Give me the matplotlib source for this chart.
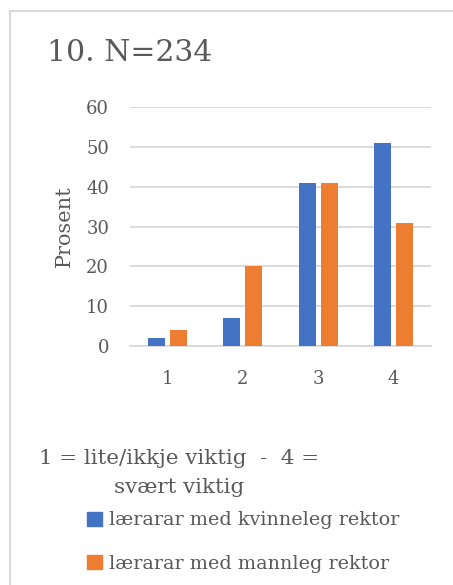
import matplotlib
matplotlib.use("Agg")
import matplotlib.pyplot as plt
from matplotlib.patches import Rectangle, Patch
import numpy as np

categories = ["1", "2", "3", "4"]
kvinneleg = [2, 7, 41, 51]
mannleg = [4, 20, 41, 31]
series_names = ["lærarar med kvinneleg rektor", "lærarar med mannleg rektor"]
title = "10. N=234"
legend_title = "1 = lite/ikkje viktig  -  4 =\nsvært viktig"
yticks = [0, 10, 20, 30, 40, 50, 60]

BLUE = "#4472C4"
ORANGE = "#ED7D31"
TEXT = "#595959"
GRID = "#D9D9D9"
FONT = "DejaVu Serif"

W, H = 453, 585
fig = plt.figure(figsize=(W / 100, H / 100), dpi=100)
fig.patch.set_facecolor("white")

# chart frame
fig.patches.append(Rectangle((9.5 / W, -0.1), 1.2, 1 - 11 / H + 0.1,
                             transform=fig.transFigure, fill=False,
                             edgecolor="#D9D9D9", linewidth=1.5))

ax = fig.add_axes([130 / W, 1 - 346 / H, 301 / W, 239 / H])
x = np.arange(len(categories))
bw = 0.226
off = 0.146
ax.bar(x - off, kvinneleg, bw, color=BLUE, zorder=3)
ax.bar(x + off, mannleg, bw, color=ORANGE, zorder=3)
ax.set_xlim(-0.5, len(categories) - 0.5)
ax.set_ylim(0, 60)
ax.set_yticks(yticks)
ax.set_xticks(x)
ax.set_xticklabels(categories)
ax.grid(axis="y", color=GRID, linewidth=1.3, zorder=0)
ax.set_axisbelow(True)
for s in ["top", "right", "left"]:
    ax.spines[s].set_visible(False)
ax.spines["bottom"].set_color(GRID)
ax.spines["bottom"].set_linewidth(1.3)
ax.tick_params(length=0, labelcolor=TEXT, labelsize=13)
ax.tick_params(axis="y", pad=15)
ax.tick_params(axis="x", pad=17)
for lab in ax.get_xticklabels() + ax.get_yticklabels():
    lab.set_family(FONT)
ax.set_ylabel("Prosent", family=FONT, fontsize=15, color=TEXT, labelpad=9)

fig.text(47 / W, 1 - 53 / H, title, family=FONT, fontsize=21.5, color=TEXT,
         va="center", ha="left")

fig.text(179 / W, 1 - 473 / H, legend_title, family=FONT, fontsize=15.4,
         color=TEXT, ha="center", va="center", multialignment="center",
         linespacing=1.65)

handles = [Patch(color=BLUE), Patch(color=ORANGE)]
fig.legend(handles, series_names, loc="upper left",
           bbox_to_anchor=(70 / W, 1 - 494 / H), frameon=False,
           prop={"family": FONT, "size": 13.8}, labelcolor=TEXT,
           handlelength=0.75, handleheight=0.75, handletextpad=0.4,
           labelspacing=1.35)

fig.savefig("out.png", dpi=100, facecolor="white")
